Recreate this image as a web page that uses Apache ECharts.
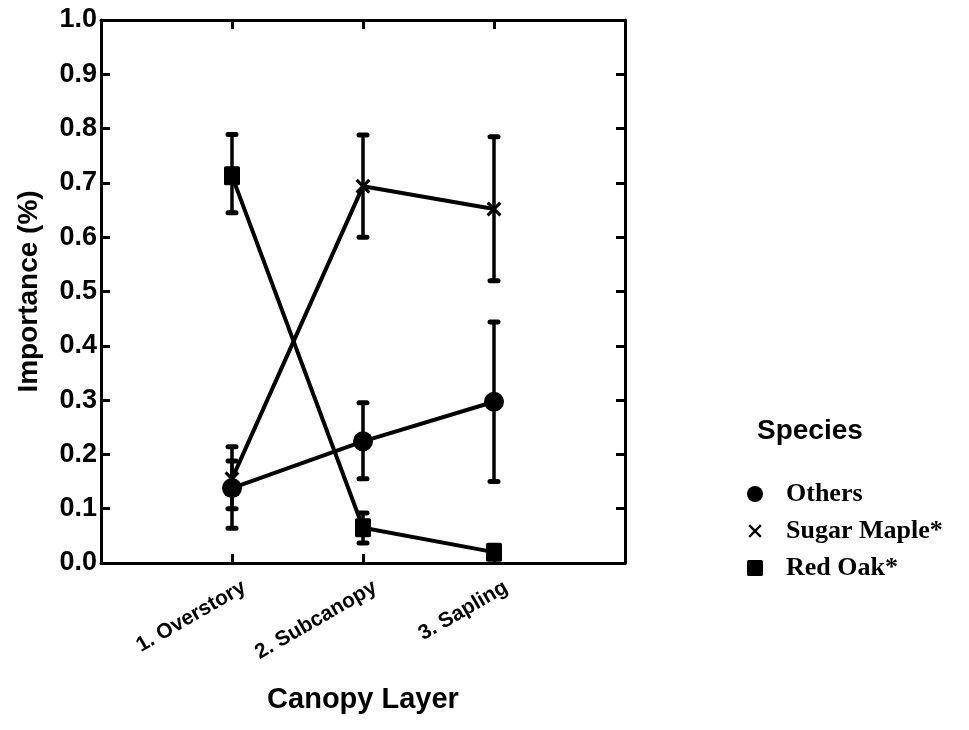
<!DOCTYPE html>
<html><head><meta charset="utf-8">
<script src="https://cdn.jsdelivr.net/npm/echarts@6/dist/echarts.min.js"></script>
<style>html,body{margin:0;padding:0;background:#fff}#c{width:969px;height:730px}</style>
</head><body><div id="c"></div>
<script>
const categories = ['1. Overstory', '2. Subcanopy', '3. Sapling'];
const catPos = [1, 2, 3];
const yTicks = ['0.0','0.1','0.2','0.3','0.4','0.5','0.6','0.7','0.8','0.9','1.0'];

const othersVal = [0.138, 0.224, 0.297];
const othersLow = [0.064, 0.155, 0.150];
const othersHigh = [0.214, 0.295, 0.444];

const mapleVal = [0.155, 0.694, 0.652];
const mapleLow = [0.100, 0.600, 0.520];
const mapleHigh = [0.188, 0.788, 0.785];

const oakVal = [0.713, 0.065, 0.020];
const oakLow = [0.645, 0.037, 0.010];
const oakHigh = [0.789, 0.092, 0.030];

const seriesNames = ['Others', 'Sugar Maple*', 'Red Oak*'];

const crossPath = 'path://M0,3 L3,0 L10,7 L17,0 L20,3 L13,10 L20,17 L17,20 L10,13 L3,20 L0,17 L7,10 Z';
const legendCross = 'path://M-2,-2 L-1.9,-2 Z M22,22 L21.9,22 Z M0,2.5 L2.5,0 L10,7.5 L17.5,0 L20,2.5 L12.5,10 L20,17.5 L17.5,20 L10,12.5 L2.5,20 L0,17.5 L7.5,10 Z';
const roundSquare = 'path://M2,0 L18,0 Q20,0 20,2 L20,18 Q20,20 18,20 L2,20 Q0,20 0,18 L0,2 Q0,0 2,0 Z';

function errData(low, high) {
  return catPos.map((x, i) => [x, low[i], high[i]]);
}
function lineData(vals) {
  return catPos.map((x, i) => [x, vals[i]]);
}
function renderErr(params, api) {
  const x = api.value(0);
  const lo = api.coord([x, api.value(1)]);
  const hi = api.coord([x, api.value(2)]);
  const cap = 4;
  const st = {stroke: '#000', lineWidth: 5, lineCap: 'round'};
  return {type: 'group', children: [
    {type: 'line', shape: {x1: lo[0], y1: lo[1], x2: hi[0], y2: hi[1]}, style: {stroke:'#000', lineWidth: 3.5}},
    {type: 'line', shape: {x1: lo[0]-cap, y1: lo[1], x2: lo[0]+cap, y2: lo[1]}, style: st},
    {type: 'line', shape: {x1: hi[0]-cap, y1: hi[1], x2: hi[0]+cap, y2: hi[1]}, style: st}
  ]};
}

const chart = echarts.init(document.getElementById('c'), null, {renderer: 'canvas'});
const axisLine = {show: true, onZero: false, lineStyle: {color: '#000', width: 3}};
const tick = {show: true, inside: true, length: 9, lineStyle: {color: '#000', width: 3}};
const sansBold = {fontFamily: 'Liberation Sans, Arial, sans-serif', fontWeight: 'bold', color: '#000'};

chart.setOption({
  animation: false,
  backgroundColor: '#fff',
  grid: {left: 101, right: 344, top: 20, bottom: 167, containLabel: false, outerBoundsMode: 'none'},
  graphic: [{type: 'text', left: 757, top: 417, style: {text: 'Species', font: 'bold 28px "Liberation Sans", Arial, sans-serif', fill: '#000'}}],
  legend: {
    orient: 'vertical', left: 742, top: 476, itemGap: 11, itemWidth: 16, itemHeight: 16,
    data: [
      {name: seriesNames[0], icon: 'circle'},
      {name: seriesNames[1], icon: legendCross},
      {name: seriesNames[2], icon: roundSquare}
    ],
    textStyle: {fontFamily: 'Liberation Serif, Times New Roman, serif', fontWeight: 'bold', fontSize: 26, color: '#000', padding: [0,0,0,18]},
    itemStyle: {color: '#000'}
  },
  xAxis: [{
    type: 'value', min: 0, max: 4, interval: 1, position: 'bottom',
    axisLine: axisLine, axisTick: tick,
    splitLine: {show: false},
    axisLabel: Object.assign({fontSize: 21, rotate: 30, margin: 30, padding: [0, -14, 0, 0],
      formatter: v => { const i = catPos.indexOf(v); return i >= 0 ? categories[i] : ''; }}, sansBold),
    name: 'Canopy Layer', nameLocation: 'middle', nameGap: 122,
    nameTextStyle: Object.assign({fontSize: 29}, sansBold)
  }, {
    type: 'value', min: 0, max: 4, interval: 1, position: 'top',
    axisLine: axisLine, axisTick: tick,
    splitLine: {show: false}, axisLabel: {show: false}
  }],
  yAxis: [{
    type: 'value', min: 0, max: 1, interval: 0.1, position: 'left',
    axisLine: axisLine, axisTick: tick,
    splitLine: {show: false},
    axisLabel: Object.assign({fontSize: 27, margin: 4,
      formatter: v => yTicks[Math.round(v * 10)]}, sansBold),
    name: 'Importance (%)', nameLocation: 'middle', nameGap: 58, nameRotate: 90,
    nameTextStyle: Object.assign({fontSize: 28}, sansBold)
  }, {
    type: 'value', min: 0, max: 1, interval: 0.1, position: 'right',
    axisLine: axisLine, axisTick: tick,
    splitLine: {show: false}, axisLabel: {show: false}
  }],
  series: [
    {type: 'custom', renderItem: renderErr, data: errData(othersLow, othersHigh), z: 1, silent: true},
    {type: 'custom', renderItem: renderErr, data: errData(mapleLow, mapleHigh), z: 1, silent: true},
    {type: 'custom', renderItem: renderErr, data: errData(oakLow, oakHigh), z: 1, silent: true},
    {name: seriesNames[0], type: 'line', data: lineData(othersVal), symbol: 'circle', symbolSize: 20,
      lineStyle: {color: '#000', width: 4}, itemStyle: {color: '#000'}, z: 3},
    {name: seriesNames[1], type: 'line', data: lineData(mapleVal), symbol: crossPath, symbolSize: 15,
      lineStyle: {color: '#000', width: 4}, itemStyle: {color: '#000'}, z: 3},
    {name: seriesNames[2], type: 'line', data: lineData(oakVal), symbol: roundSquare, symbolSize: [16, 19],
      lineStyle: {color: '#000', width: 4}, itemStyle: {color: '#000'}, z: 3}
  ]
});
</script></body></html>
